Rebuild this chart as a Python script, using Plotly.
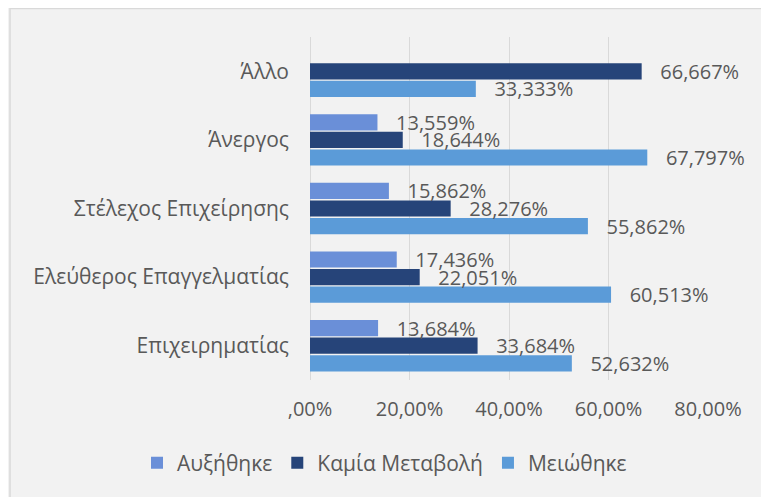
import plotly.graph_objects as go

categories = ["Επιχειρηματίας", "Ελεύθερος Επαγγελματίας", "Στέλεχος Επιχείρησης", "Άνεργος", "Άλλο"]
increased = [13.684, 17.436, 15.862, 13.559, None]
no_change = [33.684, 22.051, 28.276, 18.644, 66.667]
decreased = [52.632, 60.513, 55.862, 67.797, 33.333]
tick_vals = [0, 20, 40, 60, 80]
tick_text = [",00%", "20,00%", "40,00%", "60,00%", "80,00%"]

series = [
    ("Μειώθηκε", decreased, "#5b9bd8"),
    ("Καμία Μεταβολή", no_change, "#264479"),
    ("Αυξήθηκε", increased, "#6a8fd8"),
]

FONT = "Open Sans"
TXT = "#595959"

fig = go.Figure()
for name, vals, col in series:
    fig.add_trace(go.Bar(
        y=categories, x=vals, name=name, orientation="h",
        marker=dict(color=col, line=dict(width=0)),
        texttemplate="\u00a0\u00a0\u00a0%{x:.3f}%", textposition="outside",
        constraintext="none", cliponaxis=False,
        textfont=dict(family=FONT, size=20, color=TXT),
    ))

# page body has an 8px margin, so the figure is offset by (8, 8) on screen
OFF = 8
W, H = 769 - OFF, 497 - OFF
L, T = 310 - OFF, 37 - OFF
pw, ph = 398, 343
R, B = W - L - pw, H - T - ph

def px(x):
    return (x - OFF - L) / pw

def py(y):
    return (T + ph - (y - OFF)) / ph

fig.update_layout(
    width=W, height=H,
    margin=dict(l=L, r=R, t=T, b=B, autoexpand=False),
    paper_bgcolor="#f2f2f2", plot_bgcolor="#f2f2f2",
    separators=",.",
    barmode="group", bargap=0.23, bargroupgap=0.08,
    font=dict(family=FONT, size=20, color=TXT),
    showlegend=True,
    legend=dict(orientation="h", traceorder="reversed",
                x=px(137), xanchor="left",
                y=py(463), yanchor="middle",
                font=dict(family=FONT, size=21, color=TXT),
                bgcolor="rgba(0,0,0,0)"),
    xaxis=dict(range=[0, 80], tickvals=tick_vals, ticktext=tick_text,
               showgrid=True, gridcolor="#d9d9d9", gridwidth=1,
               zeroline=True, zerolinecolor="#d9d9d9", zerolinewidth=1,
               showline=False, ticks="", ticklabelstandoff=15,
               tickfont=dict(family=FONT, size=20, color=TXT)),
    yaxis=dict(categoryorder="array", categoryarray=categories,
               showgrid=False, showline=False, ticks="",
               ticklabelstandoff=20,
               tickfont=dict(family=FONT, size=21, color=TXT)),
    shapes=[dict(type="rect", xref="paper", yref="paper",
                 x0=px(10), x1=px(800), y0=py(530), y1=py(8.5),
                 line=dict(color="#d9d9d9", width=1.5), fillcolor="rgba(0,0,0,0)",
                 layer="below")],
)

fig.write_html("out.html")
